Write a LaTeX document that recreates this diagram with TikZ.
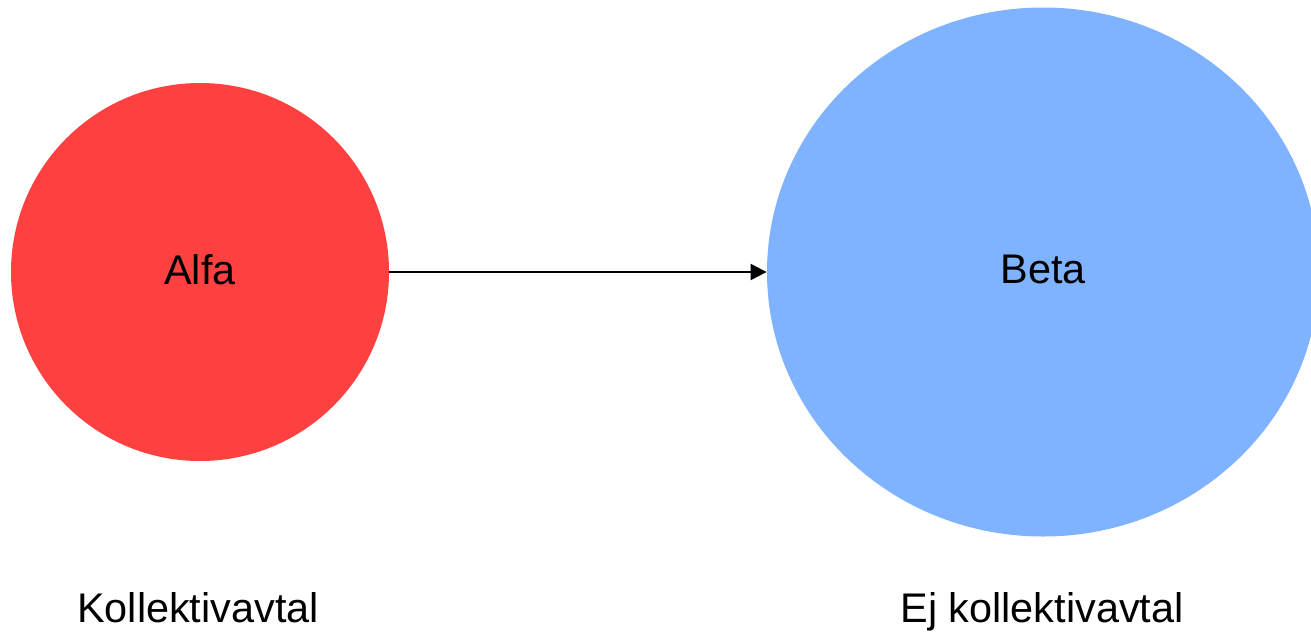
\documentclass[tikz,border=0pt]{standalone}
\usepackage{fontspec}
\setmainfont{Liberation Sans}
\usepackage{xcolor}
\usepackage{tikz}
\usetikzlibrary{arrows.meta,shapes.geometric,positioning}

\definecolor{alfared}{RGB}{255,64,64}
\definecolor{betablue}{RGB}{128,179,255}

\tikzset{
  group/.style={inner sep=0pt, font=\fontsize{20.7}{25}\selectfont, text depth=3pt},
  caption/.style={anchor=base, font=\fontsize{20.7}{25}\selectfont}
}

\begin{document}
\begin{tikzpicture}[x=0.5pt, y=-0.5pt]
            \useasboundingbox (0,0) rectangle (1311,633);
            \clip (0,0) rectangle (1311,633);
            \node[group, circle, fill=alfared, minimum size=189pt] (alfa) at (200,272) {Alfa};
            \node[group, ellipse, fill=betablue, minimum width=276pt, minimum height=264.5pt] (beta) at (1043,272) {Beta};
            \node[caption] (alfacap) at (198,622) {Kollektivavtal};
            \node[caption] (betacap) at (1042,622) {Ej kollektivavtal};
            
            \draw[-{Triangle[length=8pt, width=8pt]}, line width=1pt] (alfa) -- (beta);
        \end{tikzpicture}
\end{document}
